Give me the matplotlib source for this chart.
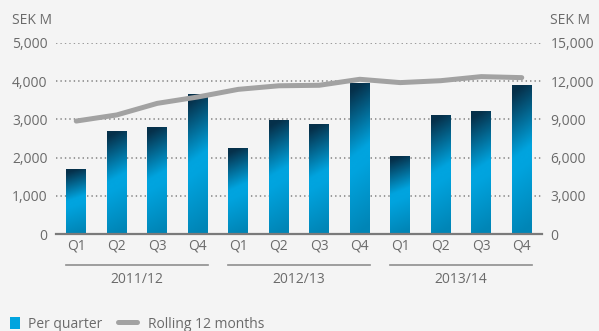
import matplotlib.pyplot as plt
import numpy as np
from matplotlib.colors import LinearSegmentedColormap
from matplotlib.patches import Rectangle
from matplotlib.lines import Line2D

plt.rcParams['font.family'] = ['Open Sans', 'DejaVu Sans']

quarters = ['Q1', 'Q2', 'Q3', 'Q4'] * 3
years = ['2011/12', '2012/13', '2013/14']
per_quarter = [1700, 2690, 2775, 3640, 2240, 2960, 2855, 3945, 2020, 3090, 3215, 3900]
rolling_12m = [8870, 9350, 10260, 10760, 11360, 11640, 11680, 12150, 11890, 12040, 12360, 12280]

bg = '#f4f4f4'
txt = '#6a6a6a'
grey_line = '#a2a2a2'

fig = plt.figure(figsize=(5.99, 3.31), dpi=100, facecolor=bg)
ax = fig.add_axes([56/599, 97/331, 486/599, 191/331])
ax.set_facecolor(bg)

# bar fill: dark at the top, bright cyan in the middle, a bit deeper at the base
bar_cmap = LinearSegmentedColormap.from_list(
    'bars', [(0.0, '#0085b6'), (0.45, '#00a4df'), (0.55, '#00a4df'), (1.0, '#06304a')])
gy, gx = np.mgrid[0:1:64j, 0:1:16j]

x = np.arange(len(per_quarter))
w = 0.49
for xi, h in zip(x, per_quarter):
    grad = np.clip(gy + 0.10 * (0.5 - gx), 0, 1)
    ax.imshow(grad, extent=(xi - w/2, xi + w/2, 0, h), origin='lower',
              aspect='auto', cmap=bar_cmap, vmin=0, vmax=1,
              interpolation='bicubic', zorder=2)

ax.set_xlim(-0.5, 11.5)
ax.set_ylim(0, 5000)
ax.set_yticks(np.arange(0, 5001, 1000))
ax.set_yticklabels([f'{v:,}' for v in range(0, 5001, 1000)])
ax.set_xticks(x)
ax.set_xticklabels(quarters)
for v in range(1000, 5001, 1000):
    ax.axhline(v, color='#808080', lw=1.1, ls=(0, (0.9, 2.0)), zorder=1)
ax.axhline(0, color='#7a7a7a', lw=1.6, zorder=3, clip_on=False)

for s in ax.spines.values():
    s.set_visible(False)
ax.tick_params(axis='both', length=0, colors=txt, labelsize=10)
ax.tick_params(axis='y', pad=6)
ax.tick_params(axis='x', pad=3)

ax2 = ax.twinx()
ax2.plot(x, rolling_12m, color=grey_line, lw=3.6,
         solid_capstyle='round', solid_joinstyle='round', zorder=4)
ax2.set_ylim(0, 15000)
ax2.set_yticks(np.arange(0, 15001, 3000))
ax2.set_yticklabels([f'{v:,}' for v in range(0, 15001, 3000)])
for s in ax2.spines.values():
    s.set_visible(False)
ax2.tick_params(axis='y', length=0, colors=txt, labelsize=10, pad=6)

# year groups under the quarter labels
xt = ax.get_xaxis_transform()
for i, yr in enumerate(years):
    a, b = 4*i - w/2, 4*i + 3 + w/2
    ax.plot([a, b], [-0.162, -0.162], color='#8e8e8e', lw=1.2,
            transform=xt, clip_on=False)
    ax.text(4*i + 1.5, -0.236, yr, transform=xt, ha='center', va='center',
            color=txt, fontsize=10)

fig.text(12/599, 1 - 21/331, 'SEK M', ha='left', va='center', color=txt, fontsize=10)
fig.text(550/599, 1 - 21/331, 'SEK M', ha='left', va='center', color=txt, fontsize=10)

# legend
fig.patches.append(Rectangle((10/599, 2/331), 10/599, 12/331, transform=fig.transFigure,
                             facecolor='#00a4df', edgecolor='none'))
fig.text(28/599, 7/331, 'Per quarter', ha='left', va='center', color=txt, fontsize=10)
fig.lines.append(Line2D([118/599, 137/599], [9/331, 9/331], transform=fig.transFigure,
                        color=grey_line, lw=3.6, solid_capstyle='round'))
fig.text(148/599, 7/331, 'Rolling 12 months', ha='left', va='center', color=txt, fontsize=10)

fig.savefig('out.png', dpi=100, facecolor=bg)
